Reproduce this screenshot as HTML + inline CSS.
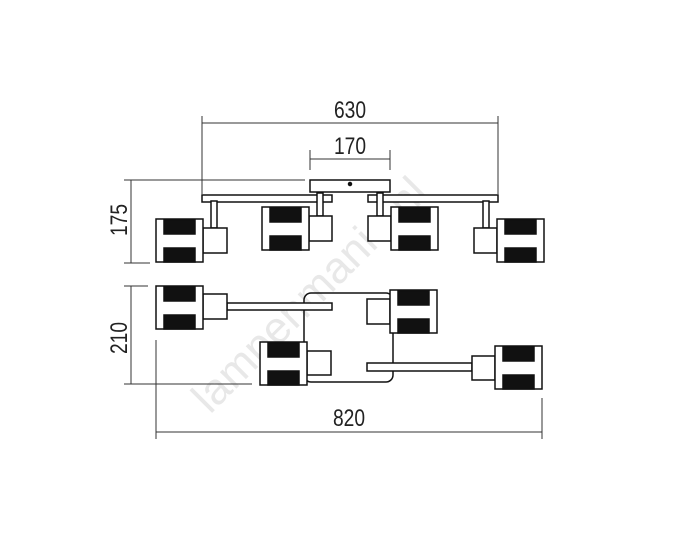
<!DOCTYPE html>
<html><head><meta charset="utf-8"><style>
html,body{margin:0;padding:0;background:#fff}
svg{display:block}
text{font-family:"Liberation Sans",sans-serif;font-size:24px;fill:#222}
</style></head><body>
<svg width="686" height="546" viewBox="0 0 686 546" xmlns="http://www.w3.org/2000/svg">
<defs>
<g id="shade">
<rect x="0" y="0" width="47" height="43" fill="#fff" stroke="#111" stroke-width="1.5"/>
<rect x="8" y="1" width="31" height="14" fill="#111"/>
<rect x="8" y="29" width="31" height="14" fill="#111"/>
</g>
</defs>
<!-- watermark -->
<text x="0" y="0" transform="translate(210,415) rotate(-45)" style="font-size:44px;fill:#e8e8e8;font-family:'Liberation Sans',sans-serif">lampenmanie.nl</text>

<g stroke="#333" stroke-width="1" fill="none">
<line x1="202" y1="123" x2="498" y2="123"/>
<line x1="202" y1="116" x2="202" y2="194"/>
<line x1="498" y1="116" x2="498" y2="194"/>
<line x1="310" y1="159" x2="390" y2="159"/>
<line x1="310" y1="150" x2="310" y2="170"/>
<line x1="390" y1="150" x2="390" y2="170"/>
<line x1="131" y1="180" x2="131" y2="263"/>
<line x1="124" y1="180" x2="305" y2="180"/>
<line x1="124" y1="263" x2="150" y2="263"/>
<line x1="131" y1="286" x2="131" y2="384"/>
<line x1="124" y1="286" x2="148" y2="286"/>
<line x1="124" y1="384" x2="252" y2="384"/>
<line x1="156" y1="432" x2="542" y2="432"/>
<line x1="156" y1="340" x2="156" y2="439"/>
<line x1="542" y1="398" x2="542" y2="439"/>
</g>
<text transform="translate(350,118) scale(0.8,1)" text-anchor="middle">630</text>
<text transform="translate(350,154) scale(0.8,1)" text-anchor="middle">170</text>
<text transform="translate(127,220) rotate(-90) scale(0.8,1)" text-anchor="middle">175</text>
<text transform="translate(127,338) rotate(-90) scale(0.8,1)" text-anchor="middle">210</text>
<text transform="translate(349,426) scale(0.8,1)" text-anchor="middle">820</text>

<g stroke="#111" stroke-width="1.5" fill="#fff">
<rect x="310" y="180" width="80" height="12"/>
<circle cx="350" cy="184" r="1.5" fill="#111"/>
<rect x="202" y="195" width="130" height="7"/>
<rect x="368" y="195" width="130" height="7"/>
<rect x="211" y="201" width="6" height="27"/>
<rect x="317" y="193" width="6" height="23"/>
<rect x="377" y="193" width="6" height="23"/>
<rect x="483" y="201" width="6" height="27"/>
<rect x="203" y="228" width="24" height="25"/>
<rect x="309" y="216" width="23" height="25"/>
<rect x="368" y="216" width="23" height="25"/>
<rect x="474" y="228" width="23" height="25"/>
<use href="#shade" x="156" y="219"/>
<use href="#shade" x="262" y="207"/>
<use href="#shade" x="391" y="207"/>
<use href="#shade" x="497" y="219"/>

<rect x="304" y="293" width="89" height="89" rx="7" fill="none"/>
<rect x="227" y="303" width="105" height="7"/>
<rect x="367" y="363" width="105" height="8"/>
<rect x="203" y="294" width="24" height="25"/>
<rect x="367" y="299" width="23" height="25"/>
<rect x="307" y="351" width="24" height="24"/>
<rect x="472" y="356" width="23" height="24"/>
<use href="#shade" x="156" y="286"/>
<use href="#shade" x="390" y="290"/>
<use href="#shade" x="260" y="342"/>
<use href="#shade" x="495" y="346"/>
</g>
</svg>
</body></html>
